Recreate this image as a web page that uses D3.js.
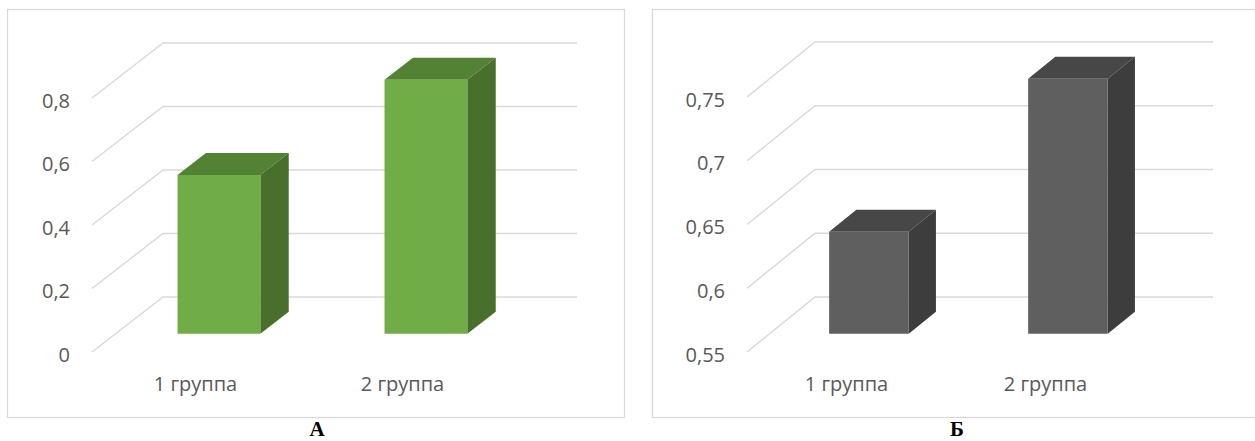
<!DOCTYPE html>
<html>
<head>
<meta charset="utf-8">
<script src="https://cdn.jsdelivr.net/npm/d3@7"></script>
<style>
  html, body { margin: 0; padding: 0; background: #fff; }
  svg { display: block; }
</style>
</head>
<body>
<svg id="chart" width="1255" height="441"></svg>
<script>
// Group labels shared by both panels
const categories = ["1 группа", "2 группа"];

// Panel А values and value-axis ticks
const valuesA = [0.5, 0.8];
const ticksA = [0, 0.2, 0.4, 0.6, 0.8];

// Panel Б values and value-axis ticks
const valuesB = [0.63, 0.75];
const ticksB = [0.55, 0.6, 0.65, 0.7, 0.75];

const panelLetters = ["А", "Б"];

const svg = d3.select("#chart");
const fmt = v => d3.format("~g")(v).replace(".", ",");

// Draws one pseudo-3D column chart: side wall + back wall gridlines, columns with front/top/side faces.
function drawPanel(opt) {
  const g = svg.append("g");

  // frame
  g.append("rect")
    .attr("x", opt.frame[0] + 0.5).attr("y", opt.frame[1] + 0.5)
    .attr("width", opt.frame[2]).attr("height", opt.frame[3])
    .attr("fill", "#fff").attr("stroke", "#d9d9d9").attr("stroke-width", 1.3);

  const y = d3.scaleLinear().domain(opt.domain).range([opt.yBottom, opt.yTop]);
  const x = d3.scaleBand().domain(categories)
    .range([opt.xLeft, opt.xRight]).paddingInner(0.6).paddingOuter(0.3);
  const xc = d3.scalePoint().domain(categories).range([opt.xLeft, opt.xRight]).padding(0.5);

  // projection: z = 0 front plane, z = 1 back wall
  const P = (px, v, z) => [px + z * opt.dx, y(v) + z * opt.dy];
  const backRight = opt.xRight + opt.dx;

  // gridlines: diagonal on the side wall, horizontal on the back wall
  const grid = g.append("g").attr("fill", "none")
    .attr("stroke", "#d9d9d9").attr("stroke-width", 1.5);
  grid.selectAll("path").data(opt.ticks).join("path")
    .attr("d", t => {
      const a = P(opt.xLeft, t, 0), b = P(opt.xLeft, t, 1);
      return `M${a[0]},${a[1]}L${b[0]},${b[1]}L${backRight},${b[1]}`;
    });

  // tick labels
  g.append("g").selectAll("text").data(opt.ticks).join("text")
    .attr("x", opt.xLeft - 22)
    .attr("y", t => y(t) + 2)
    .attr("text-anchor", "end")
    .attr("dominant-baseline", "central")
    .attr("font-family", "'Open Sans', sans-serif")
    .attr("font-size", 20)
    .attr("fill", "#595959")
    .text(fmt);

  // category labels
  g.append("g").selectAll("text").data(categories).join("text")
    .attr("x", c => xc(c))
    .attr("y", opt.yBottom + 31)
    .attr("text-anchor", "middle")
    .attr("dominant-baseline", "central")
    .attr("font-family", "'Open Sans', sans-serif")
    .attr("font-size", 20)
    .attr("fill", "#595959")
    .text(c => c);

  // columns
  const z0 = 0.33, z1 = 0.73;
  const base = opt.domain[0];
  const poly = pts => "M" + pts.map(p => p.join(",")).join("L") + "Z";
  const bars = g.append("g").selectAll("g").data(categories.map((c, i) => ({ c, v: opt.values[i] })))
    .join("g");

  bars.append("path") // top face
    .attr("fill", opt.colors.top)
    .attr("d", d => {
      const x0 = x(d.c), x1 = x0 + x.bandwidth();
      return poly([P(x0, d.v, z0), P(x1, d.v, z0), P(x1, d.v, z1), P(x0, d.v, z1)]);
    });
  bars.append("path") // side face
    .attr("fill", opt.colors.side)
    .attr("d", d => {
      const x1 = x(d.c) + x.bandwidth();
      return poly([P(x1, base, z0), P(x1, d.v, z0), P(x1, d.v, z1), P(x1, base, z1)]);
    });
  bars.append("path") // front face
    .attr("fill", opt.colors.front)
    .attr("d", d => {
      const x0 = x(d.c), x1 = x0 + x.bandwidth();
      return poly([P(x0, base, z0), P(x1, base, z0), P(x1, d.v, z0), P(x0, d.v, z0)]);
    });

  // panel letter
  svg.append("text")
    .attr("x", opt.letterX).attr("y", 436)
    .attr("text-anchor", "middle")
    .attr("font-family", "'Liberation Serif', 'Times New Roman', serif")
    .attr("font-weight", "bold")
    .attr("font-size", 21)
    .attr("fill", "#000")
    .text(opt.letter);
}

drawPanel({
  frame: [7, 9, 617, 408],
  domain: [0, 0.8], ticks: ticksA, values: valuesA,
  yBottom: 352, yTop: 98, xLeft: 92, xRight: 506, dx: 71, dy: -55,
  colors: { front: "#70ad47", top: "#548235", side: "#486f2c" },
  letter: panelLetters[0], letterX: 317
});

drawPanel({
  frame: [652, 9, 620, 408],
  domain: [0.55, 0.75], ticks: ticksB, values: valuesB,
  yBottom: 352, yTop: 97, xLeft: 747, xRight: 1145, dx: 68, dy: -55,
  colors: { front: "#5f5f5f", top: "#474747", side: "#3d3d3d" },
  letter: panelLetters[1], letterX: 957
});
</script>
</body>
</html>
